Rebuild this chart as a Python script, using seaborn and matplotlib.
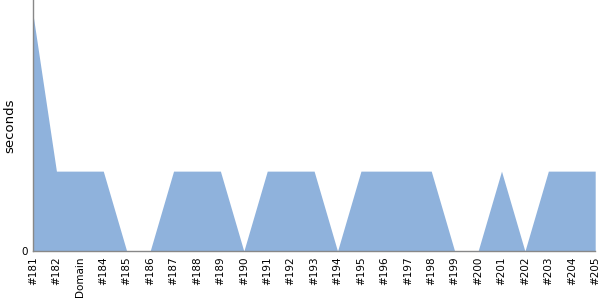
import matplotlib
matplotlib.use("Agg")
import matplotlib.pyplot as plt
import seaborn as sns
import numpy as np
import pandas as pd

labels = ["#181", "#182", "Domain", "#184", "#185", "#186", "#187", "#188", "#189",
          "#190", "#191", "#192", "#193", "#194", "#195", "#196", "#197", "#198",
          "#199", "#200", "#201", "#202", "#203", "#204", "#205"]
seconds = [2.96, 1, 1, 1, 0, 0, 1, 1, 1, 0, 1, 1, 1, 0, 1, 1, 1, 1, 0, 0, 1, 0, 1, 1, 1]

sns.set_theme(style="white")
plt.rcParams['font.family'] = ['DejaVu Sans']

df = pd.DataFrame({"build": labels, "seconds": seconds})
df["pos"] = np.arange(len(df))

fig = plt.figure(figsize=(6, 3), dpi=100)
ax = fig.add_axes([0.055, 0.163, 0.937, 0.837])
sns.lineplot(data=df, x="pos", y="seconds", ax=ax, color="#8fb2dc", linewidth=0)
ax.fill_between(df["pos"], df["seconds"], color="#8fb2dc", linewidth=0)

ax.set_xlim(0, len(df) - 1)
ax.set_ylim(0, 3.14)
ax.set_xticks(df["pos"])
ax.set_xticklabels(labels, rotation=90, fontsize=7.5, color="black")
ax.set_yticks([0])
ax.set_yticklabels(["0"], fontsize=7.5, color="black")
ax.set_xlabel("")
ax.set_ylabel("seconds", fontsize=9.5, color="black")
ax.yaxis.set_label_coords(-0.030, 0.5)
ax.tick_params(axis="y", length=2, width=0.8, color="#888888", pad=2)
ax.tick_params(axis="x", length=0, pad=4)
for s in ["top", "right"]:
    ax.spines[s].set_visible(False)
for s in ["left", "bottom"]:
    ax.spines[s].set_color("#888888")
    ax.spines[s].set_linewidth(1)

fig.savefig("out.png", dpi=100)
